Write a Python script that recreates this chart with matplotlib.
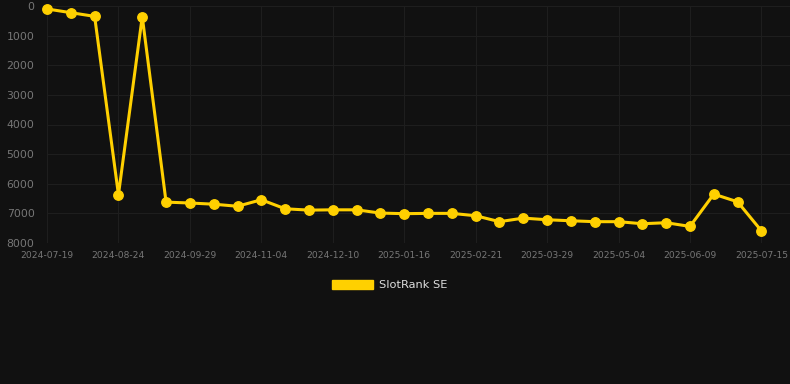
import numpy as np
import matplotlib
matplotlib.use("Agg")
import matplotlib.pyplot as plt
from matplotlib.patches import Patch

# rank values, one point roughly every 12 days (lower is better, axis reversed)
ranks = [100, 225, 350, 6370, 360, 6620, 6650, 6690, 6760, 6540,
         6845, 6890, 6880, 6880, 6990, 7010, 7000, 7000, 7080, 7280,
         7160, 7215, 7250, 7280, 7280, 7350, 7315, 7440, 6350, 6610,
         7590]
tick_labels = ["2024-07-19", "2024-08-24", "2024-09-29", "2024-11-04",
               "2024-12-10", "2025-01-16", "2025-02-21", "2025-03-29",
               "2025-05-04", "2025-06-09", "2025-07-15"]
series_name = "SlotRank SE"

bg = "#111111"
gold = "#FFD000"

fig = plt.figure(figsize=(7.9, 3.84), dpi=100, facecolor=bg)
ax = fig.add_axes([47 / 790, 1 - 243 / 384, 743 / 790, 237 / 384])
ax.set_facecolor(bg)

x = np.arange(len(ranks))
ax.plot(x, ranks, color=gold, lw=2.2, marker="o", ms=6.8, clip_on=False, zorder=3)

ax.set_xlim(0, 31.2)
ax.set_ylim(8000, 0)
ax.set_yticks(np.arange(0, 8001, 1000))
ax.set_xticks(x[::3])
ax.set_xticklabels(tick_labels)

ax.grid(True, color="#1e1e1e", lw=0.8)
for s in ax.spines.values():
    s.set_visible(False)
ax.tick_params(axis="y", length=0, pad=9, colors="#777777", labelsize=7.8)
ax.tick_params(axis="x", length=0, pad=6, colors="#777777", labelsize=6.6)

handle = Patch(facecolor=gold, edgecolor=gold)
fig.legend([handle], [series_name], loc="center", bbox_to_anchor=(390 / 790, 1 - 285 / 384),
           frameon=False, handlelength=3.6, handleheight=0.9, handletextpad=0.5,
           prop={"size": 8.2}, labelcolor="#dddddd")

fig.savefig("out.png", dpi=100, facecolor=bg)
